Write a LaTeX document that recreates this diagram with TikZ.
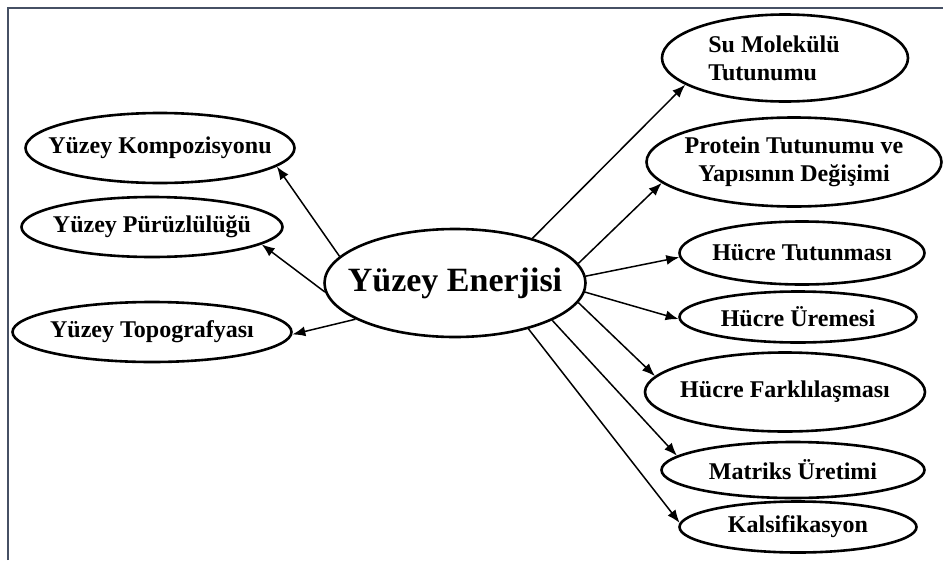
\documentclass[tikz,border=0pt]{standalone}
\usepackage{fontspec}
\setmainfont{Liberation Serif}
\usepackage{tikz}
\usetikzlibrary{arrows.meta,shapes.geometric}
\definecolor{framegray}{RGB}{70,80,100}

\begin{document}
\begin{tikzpicture}[
  x=1pt, y=-1pt, >={Latex[length=13pt,width=10pt]},
  hub/.style={ellipse, draw, line width=2.6pt, inner xsep=-40pt, inner ysep=-10pt,
              font=\fontsize{34}{38}\selectfont\bfseries},
  leaf/.style={ellipse, draw, line width=2.6pt, inner xsep=-40pt, inner ysep=-10pt,
               align=center, font=\fontsize{24}{28}\selectfont\bfseries},
  link/.style={->, line width=1.5pt}]
\useasboundingbox (0,0) rectangle (943,560);
\draw[framegray, line width=2.2pt] (8,560) -- (8,8) -- (943,8);
% centre
\node[hub, minimum width=261pt, minimum height=108pt] (enerji) at (455,283) {Yüzey Enerjisi};
% left side
\node[leaf, minimum width=269pt, minimum height=70pt] (kompozisyon) at (160,148) {Yüzey Kompozisyonu};
\node[leaf, minimum width=261pt, minimum height=60pt] (puruz) at (152,227) {Yüzey Pürüzlülüğü};
\node[leaf, minimum width=279pt, minimum height=60pt] (topografya) at (152,332) {Yüzey Topografyası};
% right side
\node[leaf, align=left, minimum width=246pt, minimum height=87pt] (su) at (785,58) {Su Molekülü\hspace*{22pt}\\Tutunumu};
\node[leaf, minimum width=295pt, minimum height=89pt] (protein) at (794,162) {Protein Tutunumu ve\\Yapısının Değişimi};
\node[leaf, minimum width=245pt, minimum height=63pt] (tutunma) at (802,253) {Hücre Tutunması};
\node[leaf, minimum width=237pt, minimum height=51pt] (ureme) at (798,317) {Hücre Üremesi};
\node[leaf, minimum width=280pt, minimum height=79pt] (farklilasma) at (785,392) {Hücre Farklılaşması};
\node[leaf, minimum width=263pt, minimum height=56pt] (matriks) at (793,470) {Matriks Üretimi};
\node[leaf, minimum width=237pt, minimum height=51pt] (kalsifikasyon) at (798,527) {Kalsifikasyon};
\draw[link] (enerji.167) -- (kompozisyon.-9);
\draw[link] (enerji.184) -- (puruz.-9);
\draw[link] (enerji.200) -- (topografya.-1);
\draw[link] (enerji.30) -- (su.195);
\draw[link] (enerji.9) -- (protein.189);
\draw[link] (enerji.3) -- (tutunma.182);
\draw[link] (enerji.-4) -- (ureme.181);
\draw[link] (enerji.-9) -- (farklilasma.173);
\draw[link] (enerji.-21) -- (matriks.173);
\draw[link] (enerji.-32) -- (kalsifikasyon.178);
\end{tikzpicture}
\end{document}
